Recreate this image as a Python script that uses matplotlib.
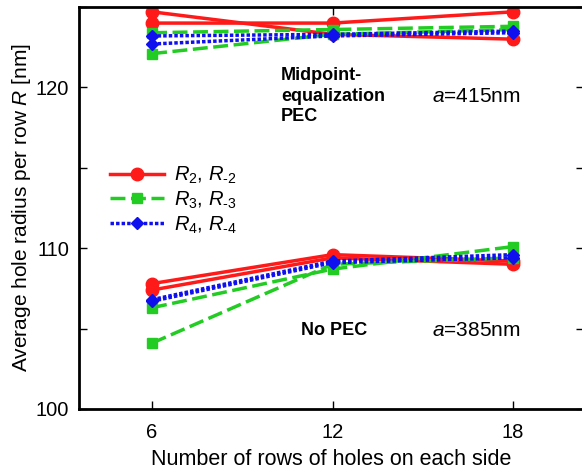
import matplotlib
matplotlib.use("Agg")
import matplotlib.pyplot as plt

plt.rcParams["font.family"] = ["Liberation Sans", "DejaVu Sans"]
plt.rcParams["mathtext.fontset"] = "custom"
plt.rcParams["mathtext.rm"] = "Liberation Sans"
plt.rcParams["mathtext.it"] = "Liberation Sans:italic"

rows = [6, 12, 18]

# a=415nm, midpoint-equalization PEC
pec_r2 = [124.7, 123.3, 123.0]
pec_rm2 = [124.0, 124.0, 124.7]
pec_r3 = [123.4, 123.6, 123.8]
pec_rm3 = [122.1, 123.3, 123.6]
pec_r4 = [123.2, 123.3, 123.5]
pec_rm4 = [122.7, 123.2, 123.4]

# a=385nm, no PEC
nopec_r2 = [107.8, 109.6, 109.2]
nopec_rm2 = [107.4, 109.4, 109.0]
nopec_r3 = [106.3, 108.7, 110.1]
nopec_rm3 = [104.1, 109.0, 109.4]
nopec_r4 = [106.8, 109.2, 109.6]
nopec_rm4 = [106.7, 109.1, 109.4]

red = dict(color="#ff1a1a", lw=2.5, ls="-", marker="o", ms=9)
green = dict(color="#22cc22", lw=2.5, ls=(0, (4.3, 1.6)), marker="s", ms=7)
blue = dict(color="#1010ee", lw=2.5, ls=(0, (1, 0.6)), marker="D", ms=6.5)

fig = plt.figure(figsize=(5.82, 4.72), dpi=100)
ax = fig.add_axes([79 / 582, 1 - 409 / 472, 505 / 582, 402 / 472])

ax.plot(rows, pec_r2, **red, label=r"$R_2$, $R_{\text{-}2}$")
ax.plot(rows, pec_rm2, **red)
ax.plot(rows, nopec_r2, **red)
ax.plot(rows, nopec_rm2, **red)
ax.plot(rows, pec_r3, **green, label=r"$R_3$, $R_{\text{-}3}$")
ax.plot(rows, pec_rm3, **green)
ax.plot(rows, nopec_r3, **green)
ax.plot(rows, nopec_rm3, **green)
ax.plot(rows, pec_r4, **blue, label=r"$R_4$, $R_{\text{-}4}$")
ax.plot(rows, pec_rm4, **blue)
ax.plot(rows, nopec_r4, **blue)
ax.plot(rows, nopec_rm4, **blue)

ax.set_xlim(3.57, 20.36)
ax.set_ylim(100, 125)
ax.set_xticks(rows)
ax.set_yticks([100, 110, 120])
ax.set_yticks([105, 115, 125], minor=True)
ax.tick_params(direction="in", length=6, width=1, labelsize=14.5, top=True, right=True)
ax.tick_params(axis="x", pad=10)
ax.tick_params(axis="y", pad=7)
ax.tick_params(which="minor", direction="in", length=6, width=1, right=True)
for s in ax.spines.values():
    s.set_linewidth(2)

ax.set_xlabel("Number of rows of holes on each side", fontsize=15.5, labelpad=5)
ax.set_ylabel("Average hole radius per row $R$ [nm]", fontsize=15, labelpad=2)

ax.text(10.28, 119.45, "Midpoint-\nequalization\nPEC", fontsize=13, fontweight="bold",
        va="center", ha="left", linespacing=1.28)
ax.text(15.32, 119.45, "$a$=415nm", fontsize=15, va="center", ha="left")
ax.text(10.95, 104.9, "No PEC", fontsize=13, fontweight="bold", va="center", ha="left")
ax.text(15.32, 104.9, "$a$=385nm", fontsize=15, va="center", ha="left")

ax.legend(loc="upper left", bbox_to_anchor=(0.034, 0.643), frameon=False, fontsize=14.5,
          handlelength=2.65, handletextpad=0.5, labelspacing=0.18, borderpad=0.2)

fig.savefig("out.png", dpi=100)
